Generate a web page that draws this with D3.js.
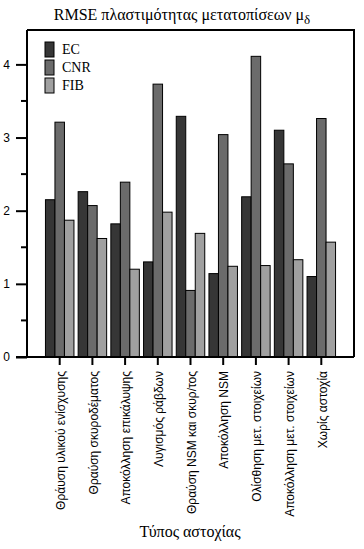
<!DOCTYPE html>
<html>
<head>
<meta charset="utf-8">
<script src="https://cdn.jsdelivr.net/npm/d3@7"></script>
<style>
  body { margin: 0; background: #fff; }
  svg text { fill: #000; }
</style>
</head>
<body>
<svg id="chart" width="364" height="549"></svg>
<script>
// data
const categories = [
    "Θράυση υλικού ενίσχυσης",
    "Θραύση σκυροδέματος",
    "Αποκόλληση επικάλυψης",
    "Λυγισμός ράβδων",
    "Θραύση NSM και σκυρ/τος",
    "Αποκόλληση NSM",
    "Ολίσθηση μετ. στοιχείων",
    "Αποκόλληση μετ. στοιχείων",
    "Χωρίς αστοχία"
];
const seriesNames = ["EC", "CNR", "FIB"];
const ecValues  = [2.15, 2.26, 1.82, 1.30, 3.29, 1.14, 2.19, 3.10, 1.10];
const cnrValues = [3.21, 2.07, 2.39, 3.73, 0.91, 3.04, 4.11, 2.64, 3.26];
const fibValues = [1.87, 1.62, 1.20, 1.98, 1.69, 1.24, 1.25, 1.33, 1.57];
const yTicks = [0, 1, 2, 3, 4];
const yMinorTicks = [0.5, 1.5, 2.5, 3.5, 4.5];

const colors = { EC: "#363636", CNR: "#6b6b6b", FIB: "#a0a0a0" };
const values = { EC: ecValues, CNR: cnrValues, FIB: fibValues };

const svg = d3.select("#chart");
const plotLeft = 27, plotRight = 354, plotTop = 30, plotBottom = 357;
const serif = "'Liberation Serif', 'DejaVu Serif', serif";
const sans = "'Liberation Sans', Arial, sans-serif";

const x = d3.scaleBand().domain(categories).range([plotLeft, plotRight]).paddingOuter(0.5).paddingInner(0);
const xInner = d3.scaleBand().domain(seriesNames)
    .range([2.1, x.bandwidth() - 2.1]).padding(0);
const y = d3.scaleLinear().domain([0, 4.47]).range([plotBottom, plotTop]);

// title (centred by measuring, since the subscript tspan breaks anchor=middle)
const title = svg.append("text")
    .attr("y", 20)
    .style("font-family", serif).style("font-size", "16px");
title.append("tspan").text("RMSE πλαστιμότητας μετατοπίσεων ");
title.append("tspan").text("μ");
title.append("tspan").text("δ").attr("dy", 4).style("font-size", "13px");
const titleWidth = title.node().getComputedTextLength();
title.attr("x", 182 - titleWidth / 2);

// bars
const groups = svg.append("g").selectAll("g")
    .data(categories)
    .join("g")
    .attr("transform", d => `translate(${x(d)},0)`);

groups.selectAll("rect")
    .data((d, i) => seriesNames.map(s => ({ s, v: values[s][i] })))
    .join("rect")
    .attr("x", d => xInner(d.s))
    .attr("width", xInner.bandwidth())
    .attr("y", d => y(d.v))
    .attr("height", d => y(0) - y(d.v))
    .attr("fill", d => colors[d.s])
    .attr("stroke", "#000")
    .attr("stroke-width", 1);

// frame
svg.append("path")
    .attr("d", `M${plotLeft},${plotTop} H${plotRight} V${plotBottom}`)
    .attr("fill", "none").attr("stroke", "#000").attr("stroke-width", 2);

// y axis
const yAxis = svg.append("g").attr("transform", `translate(${plotLeft},0)`)
    .call(d3.axisLeft(y).tickValues(yTicks).tickSize(11).tickPadding(6).tickFormat(d3.format("d")));
yAxis.select(".domain").attr("d", `M0,${plotTop}V${plotBottom}`).attr("stroke-width", 2);
yAxis.selectAll(".tick line").attr("stroke-width", 2);
yAxis.selectAll("text").style("font-family", sans).style("font-size", "12px");
svg.append("g").selectAll("line")
    .data(yMinorTicks.filter(t => y(t) >= plotTop))
    .join("line")
    .attr("x1", plotLeft - 6).attr("x2", plotLeft)
    .attr("y1", d => y(d)).attr("y2", d => y(d))
    .attr("stroke", "#000").attr("stroke-width", 2);

// x axis
const xAxis = svg.append("g").attr("transform", `translate(0,${plotBottom})`)
    .call(d3.axisBottom(x).tickSize(8).tickPadding(0));
xAxis.select(".domain").attr("d", `M${plotLeft - 11},0H${plotRight}`).attr("stroke-width", 2);
xAxis.selectAll(".tick line").attr("stroke-width", 2);
xAxis.selectAll("text")
    .attr("transform", "rotate(-90)")
    .attr("x", -14).attr("y", 1).attr("dy", "0.35em")
    .attr("text-anchor", "end")
    .style("font-family", sans).style("font-size", "12px");

// x title
svg.append("text")
    .attr("x", 190).attr("y", 537)
    .attr("text-anchor", "middle")
    .style("font-family", serif).style("font-size", "16px")
    .text("Τύπος αστοχίας");

// legend
const legend = svg.append("g").selectAll("g")
    .data(seriesNames)
    .join("g")
    .attr("transform", (d, i) => `translate(45,${42 + i * 18})`);
legend.append("rect")
    .attr("width", 9).attr("height", 15)
    .attr("fill", d => colors[d])
    .attr("stroke", "#000").attr("stroke-width", 1);
legend.append("text")
    .attr("x", 17).attr("y", 12)
    .style("font-family", serif).style("font-size", "14px")
    .text(d => d);
</script>
</body>
</html>
